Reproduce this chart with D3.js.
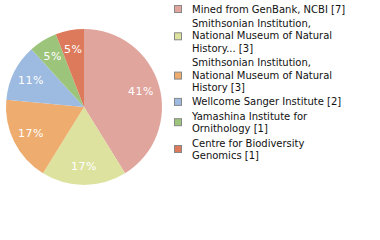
<!DOCTYPE html>
<html>
<head>
<meta charset="utf-8">
<script src="https://cdn.jsdelivr.net/npm/d3@7"></script>
<style>
  body { margin: 0; background: #fff; }
  svg { display: block; }
</style>
</head>
<body>
<script>
// institutions and record counts
var labels = [
  ["Mined from GenBank, NCBI [7]"],
  ["Smithsonian Institution,", "National Museum of Natural", "History... [3]"],
  ["Smithsonian Institution,", "National Museum of Natural", "History [3]"],
  ["Wellcome Sanger Institute [2]"],
  ["Yamashina Institute for", "Ornithology [1]"],
  ["Centre for Biodiversity", "Genomics [1]"]
];
var counts = [7, 3, 3, 2, 1, 1];
var colors = ["#e0a59d", "#dde29f", "#eeac6f", "#9dbbe0", "#9dc47b", "#dd7a5b"];

var width = 380, height = 240;
var cx = 84, cy = 107, radius = 78;

var svg = d3.select("body").append("svg")
  .attr("width", width)
  .attr("height", height);

var total = d3.sum(counts);
var pie = d3.pie().sort(null).value(function(d) { return d; });
var arcs = pie(counts);

var arc = d3.arc().innerRadius(0).outerRadius(radius);
var labelArc = d3.arc().innerRadius(radius * 0.76).outerRadius(radius * 0.76);

var g = svg.append("g").attr("transform", "translate(" + cx + "," + cy + ")");

g.selectAll("path")
  .data(arcs)
  .enter()
  .append("path")
  .attr("d", arc)
  .attr("fill", function(d, i) { return colors[i]; });

g.selectAll("text")
  .data(arcs)
  .enter()
  .append("text")
  .attr("transform", function(d) { return "translate(" + labelArc.centroid(d) + ")"; })
  .attr("text-anchor", "middle")
  .attr("dy", "0.35em")
  .attr("fill", "#fff")
  .style("font-family", "DejaVu Sans")
  .style("font-size", "11px")
  .style("letter-spacing", "0.5px")
  .text(function(d) { return Math.floor(d.value / total * 100) + "%"; });

// legend
var lineH = 12.5, gap = 1.8;
var legend = svg.append("g").attr("transform", "translate(174,9)");
var y = 0;
labels.forEach(function(lines, i) {
  var item = legend.append("g").attr("transform", "translate(0," + y + ")");
  var mid = (lines.length - 1) * lineH / 2;
  item.append("rect")
    .attr("x", 0.5)
    .attr("y", Math.round(mid) - 3.5)
    .attr("width", 7)
    .attr("height", 7)
    .attr("fill", colors[i])
    .attr("stroke", "#888")
    .attr("stroke-width", 1);
  item.selectAll("text")
    .data(lines)
    .enter()
    .append("text")
    .attr("x", 18)
    .attr("y", function(d, j) { return j * lineH; })
    .attr("dy", "0.35em")
    .attr("fill", "#111")
    .style("font-family", "DejaVu Sans")
    .style("font-size", "10px")
    .text(function(d) { return d; });
  y += lines.length * lineH + gap;
});
</script>
</body>
</html>
